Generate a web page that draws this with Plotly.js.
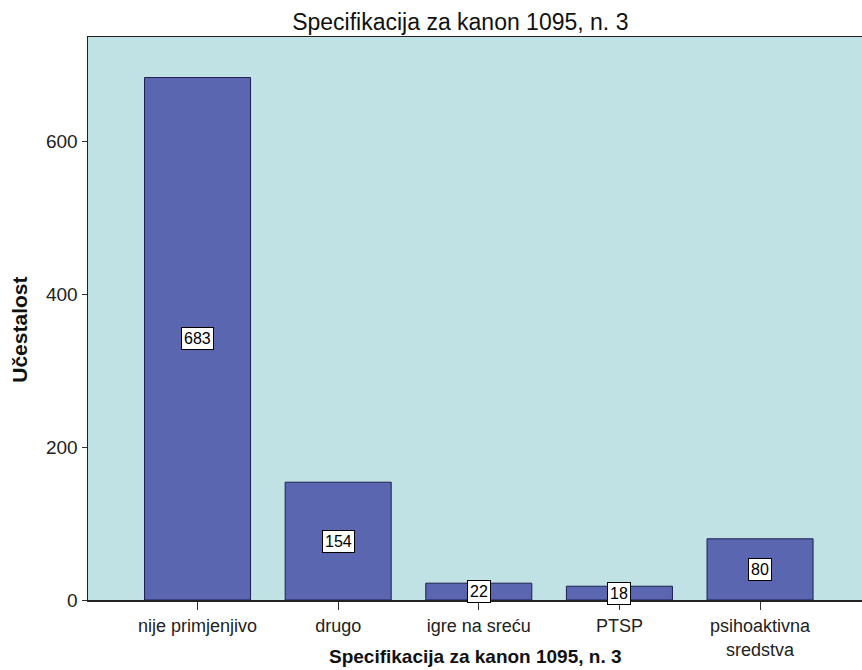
<!DOCTYPE html>
<html>
<head>
<meta charset="utf-8">
<script src="https://cdn.plot.ly/plotly-3.0.1.min.js"></script>
<style>html,body{margin:0;padding:0;background:#fff;}#chart{width:862px;height:670px;}</style>
</head>
<body>
<div id="chart"></div>
<script>
const categories = ["nije primjenjivo", "drugo", "igre na sreću", "PTSP", "psihoaktivna<br>sredstva"];
const counts = [683, 154, 22, 18, 80];
const yTicks = [0, 200, 400, 600];
const chartTitle = "Specifikacija za kanon 1095, n. 3";
const xTitle = "Specifikacija za kanon 1095, n. 3";
const yTitle = "Učestalost";

const FONT = "Liberation Sans, Arial, sans-serif";

const trace = {
  type: "bar",
  x: categories,
  y: counts,
  marker: { color: "#5A66B0", line: { color: "#1E2050", width: 1 } },
  hoverinfo: "x+y"
};

const annotations = categories.map((c, i) => ({
  x: c, y: counts[i] / 2, xref: "x", yref: "y",
  text: String(counts[i]), showarrow: false,
  font: { family: FONT, size: 16, color: "#000" },
  bgcolor: "#ffffff", bordercolor: "#000000", borderwidth: 1, borderpad: 2
}));

annotations.push({
  xref: "paper", yref: "paper", x: 0.5, y: -0.100, xanchor: "center", yanchor: "middle",
  text: "<b>" + xTitle + "</b>", showarrow: false,
  font: { family: FONT, size: 19, color: "#111" }
});
annotations.push({
  xref: "paper", yref: "paper", x: -0.0879, y: 0.48, xanchor: "center", yanchor: "middle",
  text: "<b>" + yTitle + "</b>", showarrow: false, textangle: -90,
  font: { family: FONT, size: 21, color: "#111" }
});

const layout = {
  width: 862, height: 670,
  margin: { l: 88, r: 0, t: 37, b: 70 },
  paper_bgcolor: "#ffffff",
  plot_bgcolor: "#C1E2E4",
  font: { family: FONT, size: 18, color: "#222" },
  title: { text: chartTitle, x: 0.534, xref: "container", xanchor: "center", y: 0.967, yref: "container", yanchor: "middle",
           font: { family: FONT, size: 23, color: "#111" } },
  bargap: 0.246,
  showlegend: false,
  xaxis: {
    type: "category",
    range: [-0.779, 4.725],
    showline: true, linecolor: "#222", linewidth: 1.5, mirror: true,
    ticks: "outside", ticklen: 8, tickcolor: "#333",
    ticklabelstandoff: 1,
    showgrid: false, zeroline: false,
    tickfont: { family: FONT, size: 18, color: "#222" }
  },
  yaxis: {
    range: [0, 736],
    tickvals: yTicks,
    showline: true, linecolor: "#222", linewidth: 1.5,
    ticks: "outside", ticklen: 5, tickcolor: "#333",
    showgrid: false, zeroline: false,
    tickfont: { family: FONT, size: 19, color: "#222" }
  },
  annotations: annotations
};

Plotly.newPlot("chart", [trace], layout, { displayModeBar: false, staticPlot: true });
</script>
</body>
</html>
